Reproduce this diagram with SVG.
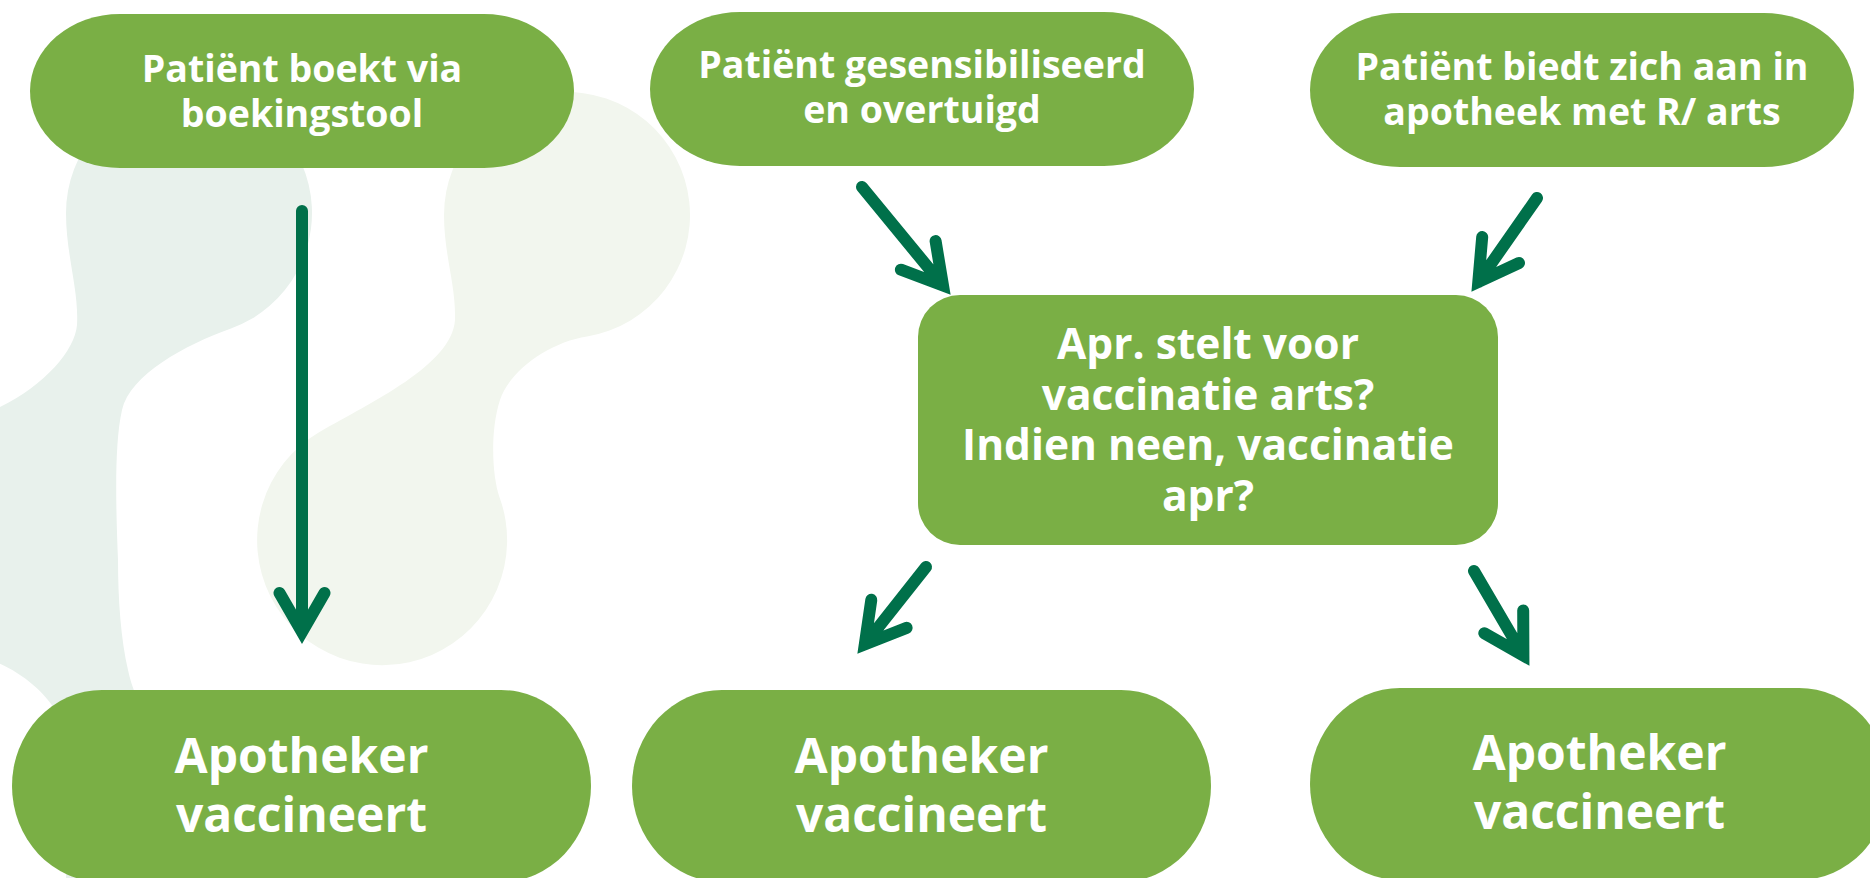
<svg xmlns="http://www.w3.org/2000/svg" width="1870" height="878" viewBox="0 0 1870 878">
  <style>
    .node { fill: #7AAF45; }
    .t1 { font-family: "Open Sans", "Liberation Sans", sans-serif; font-weight: 700; font-size: 37.5px; fill: #FFFFFF; text-anchor: middle; }
    .t2 { font-family: "Open Sans", "Liberation Sans", sans-serif; font-weight: 700; font-size: 42.5px; fill: #FFFFFF; text-anchor: middle; }
    .t3 { font-family: "Open Sans", "Liberation Sans", sans-serif; font-weight: 700; font-size: 48px; fill: #FFFFFF; text-anchor: middle; }
    .arrow { fill: none; stroke: #00704A; stroke-width: 12; stroke-linecap: round; stroke-linejoin: miter; stroke-miterlimit: 10; }
  </style>
  <rect x="0" y="0" width="1870" height="878" fill="#FFFFFF"/>
  <g id="background">
    <path fill="#E8F1EC" d="M66,213 C66,255 79,290 77,325 C75,350 45,385 0,407 L-20,417 L-150,417 L-150,660 L-10,660 C15,668 45,690 58,715 C64,728 66,745 66,770 L66,900 L200,900 L200,760 C160,745 135,705 128,670 C121,640 118,600 118,560 C116,510 114,445 122,410 C130,375 185,345 231,328.6 A123,123 0 1 0 66,213 Z"/>
    <path fill="#F2F6EE" d="M444,215 C444,255 456,285 455,320 C452,365 371.5,402 319.5,432 A125,125 0 1 0 499.5,497.2 C492,476 490,430 500,400 C510,370 550,342 587,336.4 A123,123 0 1 0 444,215 Z"/>
  </g>
  <g id="node-boekingstool">
    <rect class="node" x="30" y="14" width="544" height="154" rx="90" ry="77"/>
    <text class="t1" x="302" y="82">Patiënt boekt via</text>
    <text class="t1" x="302" y="127">boekingstool</text>
  </g>
  <g id="node-gesensibiliseerd">
    <rect class="node" x="650" y="12" width="544" height="154" rx="90" ry="77"/>
    <text class="t1" x="922" y="78">Patiënt gesensibiliseerd</text>
    <text class="t1" x="922" y="123">en overtuigd</text>
  </g>
  <g id="node-apotheek-r-arts">
    <rect class="node" x="1310" y="13" width="544" height="154" rx="90" ry="77"/>
    <text class="t1" x="1582" y="80">Patiënt biedt zich aan in</text>
    <text class="t1" x="1582" y="125">apotheek met R/ arts</text>
  </g>
  <g id="node-beslissing">
    <rect class="node" x="918" y="295" width="580" height="250" rx="42" ry="42"/>
    <text class="t2" x="1208" y="359">Apr. stelt voor</text>
    <text class="t2" x="1208" y="410">vaccinatie arts?</text>
    <text class="t2" x="1208" y="460">Indien neen, vaccinatie</text>
    <text class="t2" x="1208" y="511">apr?</text>
  </g>
  <g id="node-vaccineert-1">
    <rect class="node" x="12" y="690" width="579" height="192" rx="90" ry="96"/>
    <text class="t3" x="301.5" y="773">Apotheker</text>
    <text class="t3" x="301.5" y="832">vaccineert</text>
  </g>
  <g id="node-vaccineert-2">
    <rect class="node" x="632" y="690" width="579" height="192" rx="90" ry="96"/>
    <text class="t3" x="921.5" y="773">Apotheker</text>
    <text class="t3" x="921.5" y="832">vaccineert</text>
  </g>
  <g id="node-vaccineert-3">
    <rect class="node" x="1310" y="688" width="579" height="192" rx="90" ry="96"/>
    <text class="t3" x="1599.5" y="770">Apotheker</text>
    <text class="t3" x="1599.5" y="829">vaccineert</text>
  </g>
  <g id="connectors">
    <path class="arrow" d="M302,211 L302,632 M279.5,593 L302,632 L324.5,593"/>
    <path class="arrow" d="M862,187 L943,285.5 M935.6,241.1 L943,285.5 L900.9,269.7"/>
    <path class="arrow" d="M1537,198 L1478.3,282 M1482.2,237 L1478.3,282 L1519,263"/>
    <path class="arrow" d="M926,567 L864.8,644.4 M871.3,599.8 L864.8,644.4 L906.6,627.8"/>
    <path class="arrow" d="M1474,571 L1523.4,655.5 M1523.2,610.5 L1523.4,655.5 L1484.3,633.2"/>
  </g>
</svg>
